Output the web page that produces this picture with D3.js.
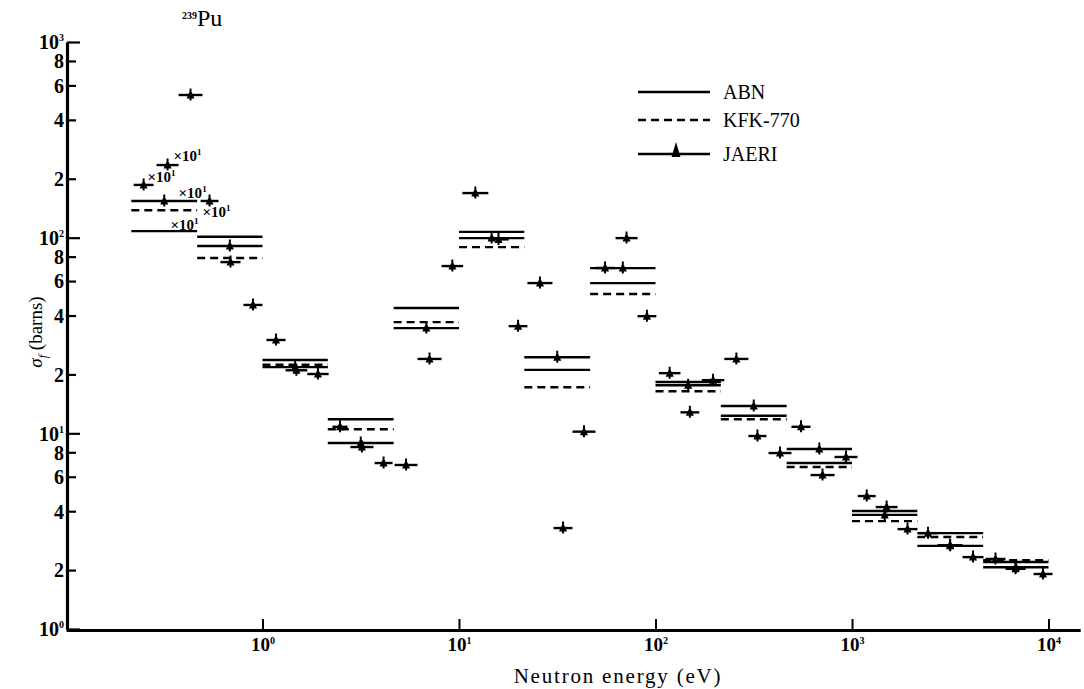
<!DOCTYPE html>
<html>
<head>
<meta charset="utf-8">
<script src="https://cdn.jsdelivr.net/npm/d3@7/dist/d3.min.js"></script>
<style>
  body { margin: 0; background: #fff; }
  text { font-family: "Liberation Serif", "DejaVu Serif", serif; fill: #000; }
</style>
</head>
<body>
<svg id="chart" width="1084" height="689"></svg>
<script>
// 239Pu fission cross section, group values
// rows: [E low (eV), E high (eV), sigma_f (barns)]
const abnGroups = [
  [0.215, 0.465, 108], [0.465, 1, 101], [1, 2.15, 23.7], [2.15, 4.65, 11.8],
  [4.65, 10, 43.7], [10, 21.5, 107], [21.5, 46.5, 21.1], [46.5, 100, 58.6],
  [100, 215, 18.3], [215, 465, 12.3], [465, 1000, 7.05], [1000, 2150, 4.01],
  [2150, 4650, 3.09], [4650, 10000, 2.2]
];
const kfkGroups = [
  [0.215, 0.465, 138], [0.465, 1, 78.7], [1, 2.15, 22.4], [2.15, 4.65, 10.5],
  [4.65, 10, 37.0], [10, 21.5, 89.5], [21.5, 46.5, 17.2], [46.5, 100, 51.5],
  [100, 215, 16.4], [215, 465, 11.8], [465, 1000, 6.73], [1000, 2150, 3.56],
  [2150, 4650, 2.95], [4650, 10000, 2.25]
];
const jaeriBroad = [
  [0.215, 0.465, 154], [0.465, 1, 90.6], [1, 2.15, 21.8], [2.15, 4.65, 8.92],
  [4.65, 10, 34.5], [10, 21.5, 99.5], [21.5, 46.5, 24.5], [46.5, 100, 69.9],
  [100, 215, 17.6], [215, 465, 13.8], [465, 1000, 8.31], [1000, 2150, 3.83],
  [2150, 4650, 2.66], [4650, 10000, 2.07]
];
const jaeriFine = [
  [0.221, 0.279, 186], [0.289, 0.374, 235], [0.374, 0.495, 536], [0.484, 0.597, 154],
  [0.611, 0.773, 75], [0.80, 1.0, 45.3], [1.048, 1.31, 30], [1.31, 1.69, 21.0],
  [1.69, 2.17, 20.1], [2.27, 2.71, 10.8], [2.80, 3.67, 8.51], [3.72, 4.59, 7.05],
  [4.70, 6.15, 6.89], [6.15, 8.15, 24.0], [8.15, 10.5, 71.6], [10.4, 14.1, 169],
  [14.1, 17.9, 98], [17.9, 22.3, 35.3], [22.3, 29.9, 58.6], [30.3, 37.8, 3.28],
  [37.8, 49.5, 10.2], [49.5, 61.9, 70], [62.6, 81.0, 99.5], [81.0, 101, 39.7],
  [104, 134, 20.3], [134, 167, 12.8], [172, 224, 18.7], [224, 297, 24.0],
  [297, 367, 9.69], [376, 492, 7.93], [492, 615, 10.8], [615, 815, 6.12],
  [815, 1067, 7.57], [1070, 1320, 4.78], [1320, 1705, 4.20], [1705, 2154, 3.24],
  [2180, 2723, 3.09], [2723, 3650, 2.68], [3650, 4670, 2.33], [4780, 6040, 2.28],
  [6040, 7640, 2.03], [8390, 10480, 1.91]
];
// scale notes beside the low-energy values: [E (eV), sigma, exponent]
const scaleNotes = [
  [0.352, 246, "1"], [0.260, 192, "1"], [0.374, 159, "1"], [0.495, 127, "1"], [0.340, 109, "1"]
];
const yTickValues = [1, 2, 4, 6, 8, 10, 20, 40, 60, 80, 100, 200, 400, 600, 800, 1000];
const xTickValues = [1, 10, 100, 1000, 10000];
const legendItems = ["ABN", "KFK-770", "JAERI"];

const svg = d3.select("#chart");
const decade = 196.5;
const x = d3.scaleLog().domain([0.1, 14500]).range([66, 66 + decade * Math.log10(145000)]);
const y = d3.scaleLog().domain([1, 1000]).range([629, 42]);

const isMajor = v => Math.abs(Math.log10(v) - Math.round(Math.log10(v))) < 1e-9;

// power-of-ten label with a small raised exponent
function powLabel(sel, exp, base, supSize, dy) {
  sel.text(null);
  sel.append("tspan").text(base);
  sel.append("tspan").attr("font-size", supSize).attr("dy", dy).text(exp);
}

// y axis
const yAxisG = svg.append("g")
  .attr("transform", "translate(67,0)")
  .call(d3.axisLeft(y).tickValues(yTickValues).tickSizeInner(-12).tickSizeOuter(0)
    .tickPadding(3).tickFormat(""));
yAxisG.select(".domain").attr("stroke-width", 3.2);
yAxisG.selectAll(".tick line").attr("stroke-width", 2.2)
  .attr("x2", d => isMajor(d) ? 13 : 9);
yAxisG.selectAll(".tick text")
  .attr("font-size", 20).attr("font-weight", "bold").attr("dy", "0.34em")
  .each(function (d) {
    const t = d3.select(this);
    if (isMajor(d)) powLabel(t, String(Math.round(Math.log10(d))), "10", 10, -8);
    else t.text(String(Math.round(d / Math.pow(10, Math.floor(Math.log10(d))))));
  });

// x axis
const xAxisG = svg.append("g")
  .attr("transform", "translate(0,630)")
  .call(d3.axisBottom(x).tickValues(xTickValues).tickSizeInner(-11).tickSizeOuter(0)
    .tickPadding(8).tickFormat(""));
xAxisG.select(".domain").attr("stroke-width", 3.2);
xAxisG.selectAll(".tick line").attr("stroke-width", 2);
xAxisG.selectAll(".tick text")
  .attr("font-size", 19).attr("font-weight", "bold")
  .each(function (d) {
    powLabel(d3.select(this), String(Math.round(Math.log10(d))), "10", 10, -7);
  });

// axis titles
const yTitle = svg.append("text")
  .attr("transform", "translate(42,332) rotate(-90)")
  .attr("text-anchor", "middle").attr("font-size", 19);
yTitle.append("tspan").attr("font-style", "italic").text("σ");
yTitle.append("tspan").attr("font-size", 12).attr("font-style", "italic").attr("dy", 5).text("f");
yTitle.append("tspan").attr("dy", -5).text("  (barns)");

svg.append("text")
  .attr("x", 618).attr("y", 683).attr("text-anchor", "middle")
  .attr("font-size", 21).attr("letter-spacing", 1.8)
  .text("Neutron energy (eV)");

// title
const title = svg.append("text").attr("x", 182).attr("y", 26);
title.append("tspan").attr("font-size", 10).attr("font-weight", "bold").attr("dy", -7).text("239");
title.append("tspan").attr("font-size", 24).attr("dy", 7).text("Pu");

const plot = svg.append("g");

function drawGroups(data, dash) {
  plot.append("g").selectAll("line").data(data).join("line")
    .attr("x1", d => x(d[0])).attr("x2", d => x(d[1]))
    .attr("y1", d => y(d[2])).attr("y2", d => y(d[2]))
    .attr("stroke", "#000").attr("stroke-width", 2.4)
    .attr("stroke-dasharray", dash);
}

const markerPath = "M0,-5.5L4,3.5L-4,3.5Z M-1,-6.5H1V5.5H-1Z";
function drawMarkers(data) {
  plot.append("g").selectAll("path").data(data).join("path")
    .attr("transform", d => `translate(${x(Math.sqrt(d[0] * d[1]))},${y(d[2])})`)
    .attr("d", markerPath).attr("fill", "#000");
}

drawGroups(abnGroups, null);
drawGroups(kfkGroups, "8,5");
drawGroups(jaeriBroad, null);
drawMarkers(jaeriBroad);
drawGroups(jaeriFine, null);
drawMarkers(jaeriFine);

// scale notes
plot.append("g").selectAll("text").data(scaleNotes).join("text")
  .attr("x", d => x(d[0])).attr("y", d => y(d[1]))
  .attr("font-size", 15).attr("font-weight", "bold")
  .each(function (d) { powLabel(d3.select(this), d[2], "×10", 9, -6); });

// legend
const legend = svg.append("g").attr("transform", "translate(638,92)");
legendItems.forEach((name, i) => {
  const row = legend.append("g").attr("transform", `translate(0,${[0, 28, 62][i]})`);
  row.append("line").attr("x1", 0).attr("x2", 72).attr("stroke", "#000").attr("stroke-width", 2.4)
    .attr("stroke-dasharray", i === 1 ? "8,5" : null);
  if (i === 2) row.append("path").attr("transform", "translate(38,0)")
    .attr("d", "M0,-12L4.5,3L-4.5,3Z").attr("fill", "#000");
  row.append("text").attr("x", 85).attr("dy", "0.35em").attr("font-size", 20).text(name);
});
</script>
</body>
</html>
